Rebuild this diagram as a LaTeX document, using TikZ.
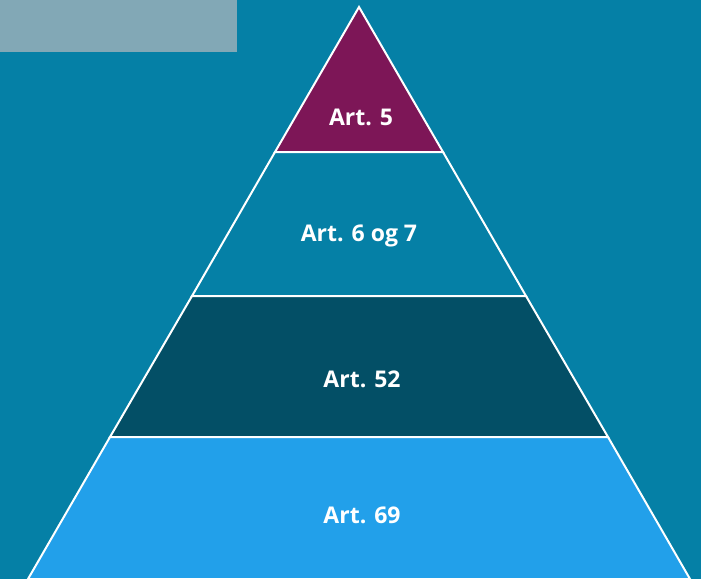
\documentclass[tikz,border=0pt]{standalone}
\usepackage{fontspec}
\setmainfont{Open Sans}
\definecolor{bgteal}{HTML}{0580A6}
\definecolor{graybox}{HTML}{82A8B6}
\definecolor{purp}{HTML}{7D1657}
\definecolor{darkteal}{HTML}{034F66}
\definecolor{lightblue}{HTML}{22A0EA}
\begin{document}
\begin{tikzpicture}[x=1pt,y=-1pt,
  band/.style={draw=white,line width=2pt,line join=miter},
  lbl/.style={text=white,font=\fontsize{23}{26}\selectfont\bfseries,inner sep=0pt,anchor=base}]
\fill[bgteal] (0,0) rectangle (701,579);
\useasboundingbox (0,0) rectangle (701,579);
\fill[graybox] (0,0) rectangle (237,52);
% pyramid: apex (359,7), base half-width 331 at y=579
\coordinate (apex) at (359,7);
\coordinate (l1) at (275,152); \coordinate (r1) at (443,152);
\coordinate (l2) at (192,296); \coordinate (r2) at (526,296);
\coordinate (l3) at (110,437); \coordinate (r3) at (608,437);
\coordinate (l4) at (28,579);  \coordinate (r4) at (690,579);
\filldraw[band,fill=purp] (apex) -- (r1) -- (l1) -- cycle;
\filldraw[band,fill=bgteal] (l1) -- (r1) -- (r2) -- (l2) -- cycle;
\filldraw[band,fill=darkteal] (l2) -- (r2) -- (r3) -- (l3) -- cycle;
\filldraw[band,fill=lightblue] (l3) -- (r3) -- (r4) -- (l4) -- cycle;
\node[lbl] (t1) at (361,125) {Art. 5};
\node[lbl] (t2) at (359,241) {Art. 6 og 7};
\node[lbl] (t3) at (362,387) {Art. 52};
\node[lbl] (t4) at (362,523) {Art. 69};
\end{tikzpicture}
\end{document}
